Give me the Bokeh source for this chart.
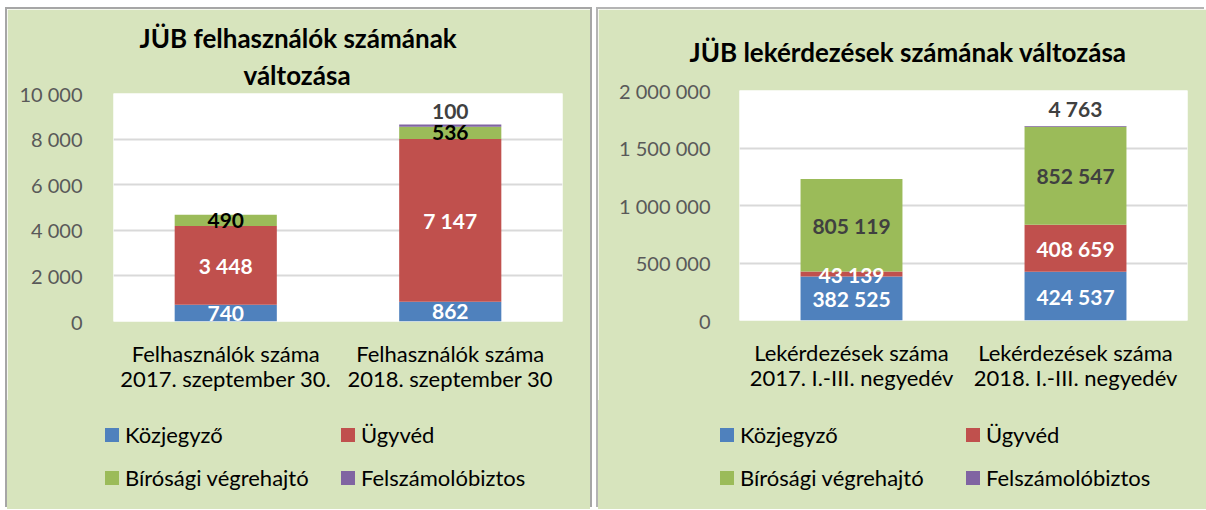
from bokeh.plotting import figure
from bokeh.models import (ColumnDataSource, FactorRange, Range1d, FixedTicker, Title, Div)
from bokeh.layouts import row, column
from bokeh.core.properties import value
from bokeh.embed import file_html
from bokeh.resources import INLINE

# ---------------- data ----------------
series = ["Közjegyző", "Ügyvéd", "Bírósági végrehajtó", "Felszámolóbiztos"]
colors = ["#4F81BD", "#C0504D", "#9BBB59", "#8064A2"]

users_title = ["JÜB felhasználók számának", "változása"]
users_categories = ["Felhasználók száma\n2017. szeptember 30.",
                    "Felhasználók száma\n2018. szeptember 30"]
users_kozjegyzo = [740, 862]
users_ugyved = [3448, 7147]
users_birosagi = [490, 536]
users_felszamolo = [0, 100]
users_ticks = [0, 2000, 4000, 6000, 8000, 10000]

queries_title = ["JÜB lekérdezések számának változása"]
queries_categories = ["Lekérdezések száma\n2017. I.-III. negyedév",
                      "Lekérdezések száma\n2018. I.-III. negyedév"]
queries_kozjegyzo = [382525, 424537]
queries_ugyved = [43139, 408659]
queries_birosagi = [805119, 852547]
queries_felszamolo = [0, 4763]
queries_ticks = [0, 500000, 1000000, 1500000, 2000000]

PANEL_BG = "#D7E4BD"
FONT = "Lato"


def fmt(v):
    return f"{v:,}".replace(",", " ")


def make_chart(title_lines, categories, vals, ticks, g, label_colors):
    p = figure(x_range=FactorRange(*categories), y_range=Range1d(ticks[0], ticks[-1]),
               frame_width=g["fw"], frame_height=g["fh"],
               min_border_left=g["bl"], min_border_right=g["br"],
               min_border_top=g["bt"], min_border_bottom=g["bb"],
               toolbar_location=None, output_backend="svg", title=None)
    p.background_fill_color = "#FFFFFF"
    p.border_fill_color = PANEL_BG
    p.outline_line_color = None

    keys = ["s0", "s1", "s2", "s3"]
    data = {"cat": categories}
    for k, v in zip(keys, vals):
        data[k] = v
    src = ColumnDataSource(data)
    p.vbar_stack(keys, x="cat", width=0.455, source=src,
                 fill_color=colors, line_color=None)

    # data labels (centred in segments, top series above the bar)
    lx, ly, lt, lc = [], [], [], []
    tx, ty, tt = [], [], []
    for i, cat in enumerate(categories):
        base = 0
        for s in range(4):
            v = vals[s][i]
            if v > 0:
                if s < 3:
                    lx.append(cat); ly.append(base + v / 2)
                    lt.append(fmt(v)); lc.append(label_colors[s])
                else:
                    tx.append(cat); ty.append(base + v); tt.append(fmt(v))
            base += v
    p.text(x="cat", y="y", text="t", text_color="c",
           source=ColumnDataSource(dict(cat=lx, y=ly, t=lt, c=lc)),
           text_align="center", text_baseline="middle",
           text_font=value(FONT), text_font_style="bold", text_font_size="21px")
    p.text(x="cat", y="y", text="t",
           source=ColumnDataSource(dict(cat=tx, y=ty, t=tt)),
           text_color=label_colors[3], text_align="center", text_baseline="bottom",
           y_offset=-5,
           text_font=value(FONT), text_font_style="bold", text_font_size="21px")

    # axes
    p.yaxis.ticker = FixedTicker(ticks=ticks)
    p.yaxis.major_label_overrides = {t: fmt(t) for t in ticks}
    p.yaxis.axis_line_color = None
    p.yaxis.major_tick_line_color = None
    p.yaxis.minor_tick_line_color = None
    p.yaxis.major_label_standoff = g["ys"]
    p.yaxis.major_label_text_font = FONT
    p.yaxis.major_label_text_font_size = "20px"
    p.yaxis.major_label_text_color = "#595959"

    p.xaxis.axis_line_color = None
    p.xaxis.major_tick_line_color = None
    p.xaxis.minor_tick_line_color = None
    p.xaxis.major_label_standoff = g["xs"]
    p.xaxis.major_label_text_font = FONT
    p.xaxis.major_label_text_font_size = "22px"
    p.xaxis.major_label_text_color = "#000000"
    p.xaxis.major_label_text_line_height = 0.96

    p.xgrid.grid_line_color = None
    p.ygrid.grid_line_color = "#D9D9D9"
    p.ygrid.grid_line_width = 2

    # title lines (closest to the frame first)
    for text, (off, stand) in reversed(list(zip(title_lines, g["title"]))):
        p.add_layout(Title(text=text, align="left", offset=off, standoff=stand,
                           text_font=FONT, text_font_style="bold",
                           text_font_size="26px", text_color="#000000"), "above")
    return p


def make_legend(width, height, cols, rows):
    # 2 x 2 legend: column 0 -> series 0, 2 ; column 1 -> series 1, 3
    parts = []
    for ci, (mx, tx) in enumerate(cols):
        for ri, cy in enumerate(rows):
            j = ci + 2 * ri
            parts.append(
                f'<span style="position:absolute;left:{mx}px;top:{cy - 7}px;'
                f'width:14px;height:14px;background:{colors[j]};"></span>'
                f'<span style="position:absolute;left:{tx}px;top:{cy - 14}px;'
                f'line-height:28px;white-space:nowrap;">{series[j]}</span>')
    html = (f'<div style="position:relative;width:{width}px;height:{height}px;'
            f'font-family:{FONT};font-size:22px;color:#000000;">' + "".join(parts) + "</div>")
    return Div(text=html, width=width, height=height,
               styles={"background-color": PANEL_BG, "margin": "0", "padding": "0"})


left_geom = dict(bl=106, fw=449, br=28, bt=84, fh=228, bb=79, ys=25, xs=12,
                 title=[(26, 0), (130, 6)])
right_geom = dict(bl=141, fw=448, br=19, bt=81, fh=230, bb=80, ys=23, xs=12,
                  title=[(-50, 45)])

c1 = make_chart(users_title, users_categories,
                [users_kozjegyzo, users_ugyved, users_birosagi, users_felszamolo],
                users_ticks, left_geom, ["#FFFFFF", "#FFFFFF", "#000000", "#404040"])
c2 = make_chart(queries_title, queries_categories,
                [queries_kozjegyzo, queries_ugyved, queries_birosagi, queries_felszamolo],
                queries_ticks, right_geom, ["#FFFFFF", "#FFFFFF", "#404040", "#404040"])
l1 = make_legend(583, 109, cols=[(98, 118), (334, 354)], rows=[35, 78])
l2 = make_legend(608, 109, cols=[(122, 142), (368, 388)], rows=[35, 78])

panel1 = column(c1, l1, margin=(9, 0, 0, 7),
                styles={"box-shadow": "-2px -2px 0 0 #A6A6A6, 2px -2px 0 0 #A6A6A6"})
panel2 = column(c2, l2, margin=(9, 0, 0, 8),
                styles={"box-shadow": "-2px -2px 0 0 #B4B4B4"})

layout = row(panel1, panel2)
open("out.html", "w").write(file_html(layout, INLINE))
